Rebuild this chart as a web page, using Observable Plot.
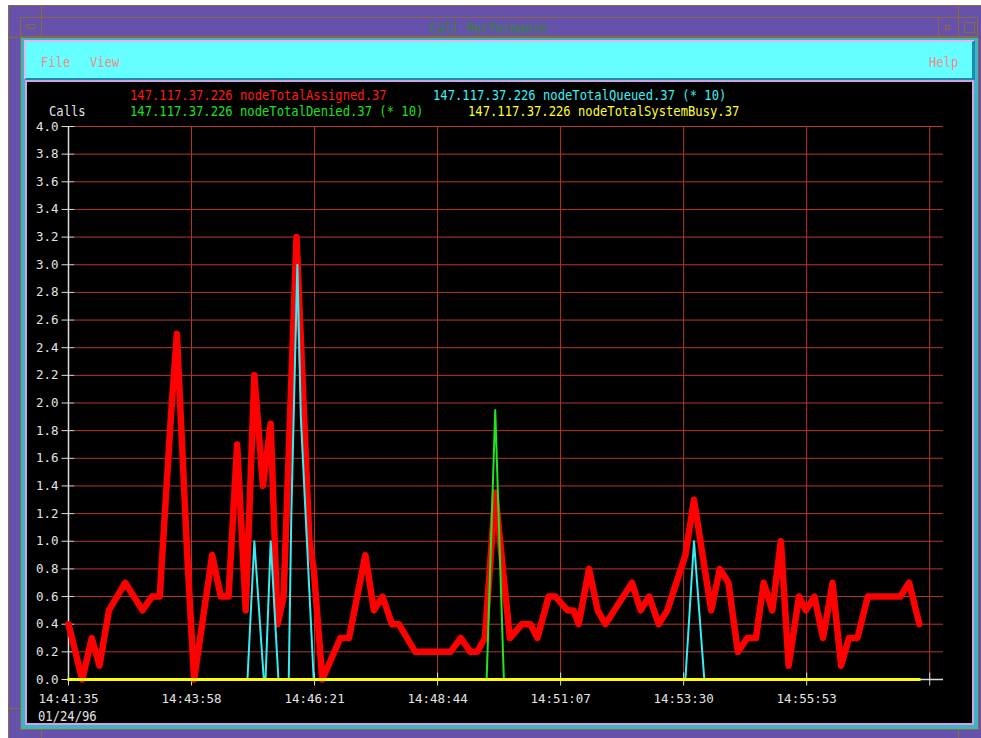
<!DOCTYPE html>
<html><head><meta charset="utf-8">
<script src="https://cdn.jsdelivr.net/npm/d3@7"></script>
<script src="https://cdn.jsdelivr.net/npm/@observablehq/plot@0.6"></script>
<style>
html,body{margin:0;padding:0;background:#fff;}
body{width:981px;height:738px;position:relative;overflow:hidden;}
.b{position:absolute;box-sizing:border-box;}
.t{position:absolute;white-space:pre;font-family:"DejaVu Sans Mono",monospace;font-size:14.5px;line-height:15px;transform:scaleX(0.84);transform-origin:0 0;}
#chart{position:absolute;left:27px;top:82px;width:945px;height:641px;}
</style></head><body>
<!-- window frame -->
<div class="b" style="left:8px;top:5px;width:973px;height:733px;background:#6652aa;border-left:1px solid #8c6a3c;border-top:1px solid #8c6a3c;"></div>
<div class="b" style="left:20px;top:17px;width:958px;height:20px;border-top:1px solid #8c6a3c;border-bottom:1px solid #8c6a3c;border-left:1px solid #8c6a3c;border-right:1px solid #8c6a3c;"></div>
<div class="b" style="left:41px;top:5px;width:1px;height:32px;background:#8c6a3c;"></div>
<div class="b" style="left:938px;top:17px;width:1px;height:20px;background:#8c6a3c;"></div>
<div class="b" style="left:958px;top:5px;width:1px;height:32px;background:#8c6a3c;"></div>
<div class="b" style="left:8px;top:37px;width:12px;height:1px;background:#8c6a3c;"></div>
<div class="b" style="left:8px;top:708px;width:12px;height:1px;background:#8c6a3c;"></div>
<div class="b" style="left:41px;top:729px;width:1px;height:9px;background:#8c6a3c;"></div>
<div class="b" style="left:958px;top:729px;width:1px;height:9px;background:#8c6a3c;"></div>
<div class="b" style="left:26px;top:24px;width:10px;height:5px;border:1px solid #8c6a3c;border-radius:2px;"></div>
<div class="b" style="left:945px;top:25px;width:5px;height:5px;border:1px solid #8c6a3c;"></div>
<div class="b" style="left:964px;top:22px;width:11px;height:11px;border:1px solid #8c6a3c;"></div>
<div class="t" style="left:430px;top:20.5px;color:#2e8a2e;">Call Performance</div>
<!-- inner window -->
<div class="b" style="left:20px;top:37px;width:959px;height:693px;background:#3bb4c8;border:1px solid #8c6a3c;"></div>
<div class="b" style="left:24px;top:40px;width:951px;height:40px;background:#66ffff;border-top:2px solid #e8b4f0;border-left:2px solid #e8b4f0;border-right:3px solid #1a8cb0;border-bottom:2px solid #1a8cb0;"></div>
<div class="b" style="left:25px;top:80px;width:949px;height:645px;background:#000;border:2px solid #d8a0e0;"></div>
<div class="t" style="left:40.5px;top:54.5px;color:#f08c8c;">File</div>
<div class="t" style="left:90px;top:54.5px;color:#f08c8c;">View</div>
<div class="t" style="left:928.5px;top:54.5px;color:#f08c8c;">Help</div>
<div id="chart"></div>
<!-- legend -->
<div class="t" style="left:130px;top:88.2px;color:#ff1a1a;">147.117.37.226 nodeTotalAssigned.37</div>
<div class="t" style="left:432.5px;top:88.2px;color:#3cf0f5;">147.117.37.226 nodeTotalQueued.37 (* 10)</div>
<div class="t" style="left:49px;top:104.2px;color:#e4e4e4;">Calls</div>
<div class="t" style="left:130px;top:104.2px;color:#1ee01e;">147.117.37.226 nodeTotalDenied.37 (* 10)</div>
<div class="t" style="left:467.5px;top:104.2px;color:#ffff2a;">147.117.37.226 nodeTotalSystemBusy.37</div>
<div class="t" style="left:38px;top:708.5px;color:#e4e4e4;">01/24/96</div>
<script>
// ---- data (seconds after the start time) ----
const startTime = "1996-01-24T14:41:35Z";
const xTickLabels = ["14:41:35","14:43:58","14:46:21","14:48:44","14:51:07","14:53:30","14:55:53","14:58:16"];
const xLabelCount = 7;          // last tick has a mark but no label
const xDomainEndSec = 1017;
const yTicks = [0,0.2,0.4,0.6,0.8,1.0,1.2,1.4,1.6,1.8,2.0,2.2,2.4,2.6,2.8,3.0,3.2,3.4,3.6,3.8,4.0];

const assignedSec = [0,16,27,36,47,66,86,97,106,119,126,138,146,167,177,186,196,206,216,226,235,243,250,265,280,285,295,316,326,345,355,365,376,384,403,444,456,467,475,484,496,513,527,537,545,558,566,580,587,593,605,615,624,655,665,675,686,696,717,727,747,757,767,778,789,799,808,818,828,837,849,857,867,877,888,898,907,917,929,967,977,989];
const assignedVal = [0.4,0,0.3,0.1,0.5,0.7,0.5,0.6,0.6,1.9,2.5,0.9,0,0.9,0.6,0.6,1.7,0.5,2.2,1.4,1.85,0.4,0.6,3.2,1.0,0.8,0,0.3,0.3,0.9,0.5,0.6,0.4,0.4,0.2,0.2,0.3,0.2,0.2,0.3,1.35,0.3,0.4,0.4,0.3,0.6,0.6,0.5,0.5,0.4,0.8,0.5,0.4,0.7,0.5,0.6,0.4,0.5,0.9,1.3,0.5,0.8,0.7,0.2,0.3,0.3,0.7,0.5,1.0,0.1,0.6,0.5,0.6,0.3,0.7,0.1,0.3,0.3,0.6,0.6,0.7,0.4];

const queuedSec = [0,208,216,227,229,235,244,256,259,266,270,285,717,727,739,989];
const queuedVal = [0,0,1.0,0,0,1.0,0,0,1.2,3.0,1.9,0,0,1.0,0,0];

const deniedSec = [0,486,496,506,989];
const deniedVal = [0,0,1.95,0,0];

const busySec = [0,989];
const busyVal = [0,0];

// ---- styles ----
const RED = "#ff0000", CYAN = "#33eef5", GREEN = "#1ee61e", YELLOW = "#ffff00";
const GRID = "#b4382c", AXIS = "#dcdcdc";

const t0 = new Date(startTime);
const toDate = s => new Date(t0.getTime() + s * 1000);
const series = (secs, vals) => secs.map((s, i) => ({t: toDate(s), v: vals[i]}));
const xTickDates = xTickLabels.map(l => new Date(`1996-01-24T${l}Z`));
const labelOf = new Map(xTickDates.map((d, i) => [+d, i < xLabelCount ? xTickLabels[i] : ""]));

const chart = Plot.plot({
  width: 945, height: 641,
  marginLeft: 41, marginRight: 29, marginTop: 44, marginBottom: 44,
  style: {background: "#000", color: "#e4e4e4", fontFamily: "DejaVu Sans Mono, monospace", fontSize: "12.5px", overflow: "visible"},
  x: {type: "utc", domain: [t0, toDate(xDomainEndSec)]},
  y: {domain: [0, 4]},
  marks: [
    Plot.ruleY(yTicks.slice(1), {stroke: GRID, strokeWidth: 1, insetLeft: 7}),
    Plot.ruleX(xTickDates.slice(1), {stroke: GRID, strokeWidth: 1}),
    Plot.ruleX([t0], {stroke: AXIS, strokeWidth: 1.5}),
    Plot.ruleY([0], {stroke: AXIS, strokeWidth: 1.5}),
    Plot.axisY({ticks: yTicks, tickFormat: d3.format(".1f"), tickSize: 13, dx: 6.5, tickPadding: 3.5, stroke: AXIS, label: null}),
    Plot.axisX({ticks: xTickDates, tickFormat: d => labelOf.get(+d) ?? "", tickSize: 13, dy: -6.5, tickPadding: 8, stroke: AXIS, label: null}),
    Plot.line(series(assignedSec, assignedVal), {x: "t", y: "v", stroke: RED, strokeWidth: 6.5, strokeLinejoin: "round"}),
    Plot.line(series(queuedSec, queuedVal), {x: "t", y: "v", stroke: CYAN, strokeWidth: 2}),
    Plot.line(series(deniedSec, deniedVal), {x: "t", y: "v", stroke: GREEN, strokeWidth: 2}),
    Plot.line(series(busySec, busyVal), {x: "t", y: "v", stroke: YELLOW, strokeWidth: 3})
  ]
});
document.getElementById("chart").appendChild(chart);
</script>
</body></html>
